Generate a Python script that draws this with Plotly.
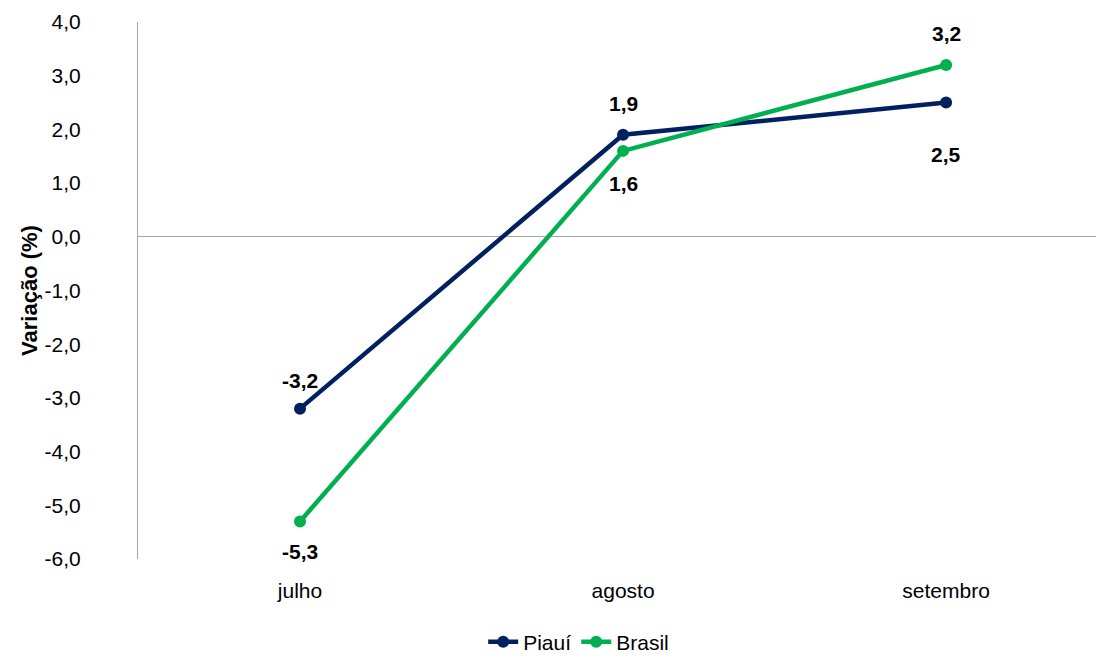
import plotly.graph_objects as go

months = ["julho", "agosto", "setembro"]
piaui = [-3.2, 1.9, 2.5]
brasil = [-5.3, 1.6, 3.2]
piaui_labels = ["-3,2", "1,9", "2,5"]
brasil_labels = ["-5,3", "1,6", "3,2"]
y_ticks = [4, 3, 2, 1, 0, -1, -2, -3, -4, -5, -6]
y_tick_labels = ["4,0", "3,0", "2,0", "1,0", "0,0", "-1,0", "-2,0", "-3,0", "-4,0", "-5,0", "-6,0"]

# label vertical offsets in pixels (styling)
piaui_label_shift = [28, 31, -52]
brasil_label_shift = [-30, -33, 31]

NAVY = "#002060"
GREEN = "#00B050"
FONT = "Liberation Sans, Arial, sans-serif"
FS = 21

xs = list(range(len(months)))

fig = go.Figure()
fig.add_trace(go.Scatter(x=xs, y=piaui, name="Piauí", mode="lines+markers",
                         line=dict(color=NAVY, width=4.5), marker=dict(size=12, color=NAVY)))
fig.add_trace(go.Scatter(x=xs, y=brasil, name="Brasil", mode="lines+markers",
                         line=dict(color=GREEN, width=4.5), marker=dict(size=12, color=GREEN)))

for vals, labs, shifts in [(piaui, piaui_labels, piaui_label_shift), (brasil, brasil_labels, brasil_label_shift)]:
    for x, v, t, s in zip(xs, vals, labs, shifts):
        fig.add_annotation(x=x, y=v, text="<b>" + t + "</b>", showarrow=False,
                           yshift=s, font=dict(size=FS, color="#000000", family=FONT))

fig.update_layout(
    width=1096, height=659,
    margin=dict(l=138, r=0, t=22, b=100, autoexpand=False),
    plot_bgcolor="white", paper_bgcolor="white",
    font=dict(family=FONT, size=FS, color="#000000"),
    showlegend=True,
    legend=dict(orientation="h", x=0.46, xanchor="center", y=-0.193, yanchor="bottom",
                font=dict(size=21, family=FONT, color="#000000")),
)
fig.update_xaxes(
    tickvals=xs, ticktext=months, range=[-0.5015, 2.464],
    showgrid=False, zeroline=False, showline=False, ticks="",
    ticklabelstandoff=17, tickfont=dict(size=FS, family=FONT, color="#000000"),
)
fig.update_yaxes(
    tickvals=y_ticks, ticktext=y_tick_labels, range=[-6, 4],
    showgrid=False, zeroline=True, zerolinecolor="#A6A6A6", zerolinewidth=1,
    showline=True, linecolor="#A6A6A6", linewidth=1, ticks="",
    ticklabelstandoff=52, tickfont=dict(size=FS, family=FONT, color="#000000"),
    title=dict(text="<b>Variação (%)</b>", font=dict(size=22, family=FONT, color="#000000"), standoff=0),
)

fig.write_html("out.html")
